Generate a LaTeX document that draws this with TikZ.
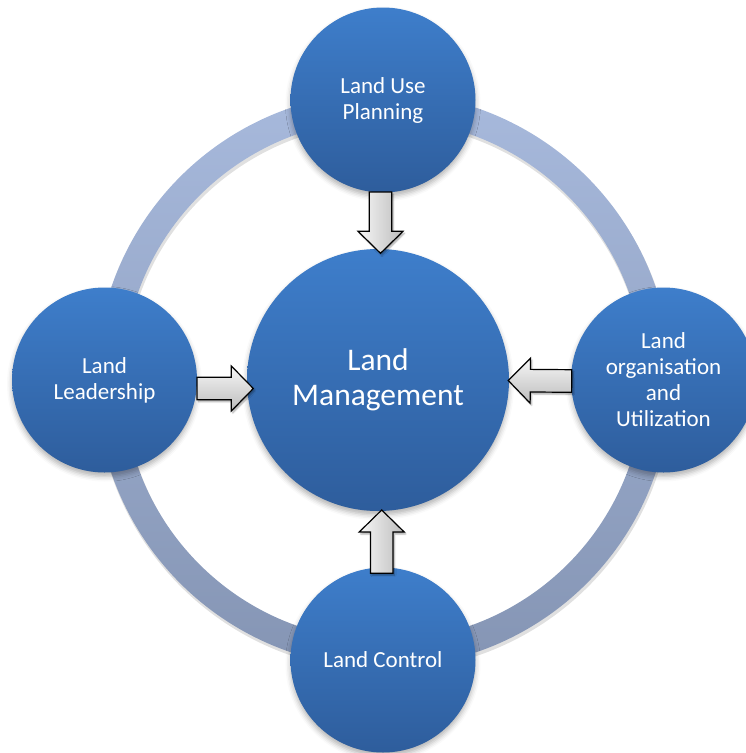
\documentclass[tikz,border=0pt]{standalone}
\usepackage{fontspec}
\setmainfont{Carlito}
\usetikzlibrary{positioning,calc,shadows.blur}

\definecolor{bubbletop}{RGB}{62,126,203}
\definecolor{bubblebot}{RGB}{46,93,156}
\definecolor{ringtop}{RGB}{167,185,220}
\definecolor{ringbot}{RGB}{133,149,180}
\definecolor{arrowlight}{RGB}{247,247,247}
\definecolor{arrowdark}{RGB}{188,188,188}

\tikzset{
  bubble/.style={circle, minimum size=185pt, inner sep=0pt, outer sep=0pt,
    top color=bubbletop, bottom color=bubblebot, text=white, align=center,
    font=\fontsize{23}{26}\selectfont,
    blur shadow={shadow xshift=0pt, shadow yshift=-4pt, shadow blur radius=5pt, shadow opacity=30}},
  hub/.style={bubble, minimum size=262pt, font=\fontsize{31.5}{35}\selectfont},
  blockfill/.style={draw=black, line width=1.2pt, line join=miter,
    blur shadow={shadow xshift=1.5pt, shadow yshift=-2pt, shadow blur radius=1.5pt, shadow opacity=35}},
}

% block arrow: #1 shading, #2 foot, #3 tip
\newcommand{\blockarrow}[3]{%
  \coordinate (head) at ($(#3)!22pt!(#2)$);
  \draw[blockfill,#1] ($(#2)!11.3pt!90:(#3)$) -- ($(head)!11.3pt!90:(#3)$)
    -- ($(head)!22.5pt!90:(#3)$) -- (#3) -- ($(head)!22.5pt!-90:(#3)$)
    -- ($(head)!11.3pt!-90:(#3)$) -- ($(#2)!11.3pt!-90:(#3)$) -- cycle;
}

\begin{document}
\begin{tikzpicture}[x=1pt, y=1pt]
    \useasboundingbox (0,0) rectangle (745,-753);
    % ring behind the bubbles
    \coordinate (ringc) at (383.5,-380);
    \fill[black, opacity=.12, even odd rule] ($(ringc)+(1,-3)$) circle (288pt) ($(ringc)+(1,-3)$) circle (260pt);
    \shade[top color=ringtop, bottom color=ringbot, even odd rule] (ringc) circle (287.5pt) (ringc) circle (260.5pt);
    \node[hub] (mgmt) at (378,-380) {Land\\Management};
    \node[bubble, above=56.5pt of mgmt, xshift=5pt] (plan) {Land Use\\Planning};
    \node[bubble, below=56.5pt of mgmt, xshift=5pt] (ctrl) {Land Control};
    \node[bubble, left=50pt of mgmt] (lead) {Land\\Leadership};
    \node[bubble, right=62pt of mgmt] (util) {Land\\organisation\\and\\Utilization};
    % arrows into the hub
    \coordinate (planfoot) at ($(plan.south)+(-2.5,0.5)$);
    \coordinate (hubtop) at ($(mgmt.north)+(2.5,-4.3)$);
    \coordinate (ctrlfoot) at ($(ctrl.north)+(-1.3,-5.8)$);
    \coordinate (hubbot) at ($(mgmt.south)+(3.7,1)$);
    \coordinate (leadfoot) at ($(lead.east)+(0,-8.5)$);
    \coordinate (hubleft) at ($(mgmt.west)+(6.3,-8.5)$);
    \coordinate (utilfoot) at ($(util.west)+(0.7,-1)$);
    \coordinate (hubright) at ($(mgmt.east)+(-0.7,-0.5)$);
    \blockarrow{left color=arrowlight, right color=arrowdark}{planfoot}{hubtop}
    \blockarrow{left color=arrowlight, right color=arrowdark}{ctrlfoot}{hubbot}
    \blockarrow{top color=arrowlight, bottom color=arrowdark}{leadfoot}{hubleft}
    \blockarrow{top color=arrowlight, bottom color=arrowdark}{utilfoot}{hubright}
\end{tikzpicture}
\end{document}
